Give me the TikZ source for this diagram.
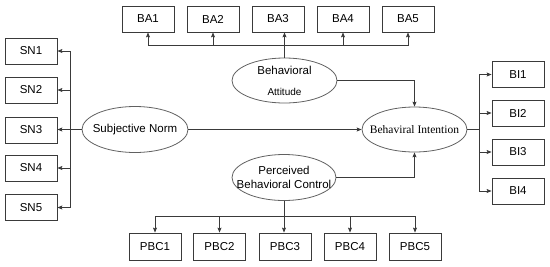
\documentclass[tikz,border=0pt]{standalone}
\usepackage{fontspec}
\setmainfont{Liberation Sans}
\newfontfamily\tnr{Liberation Serif}
\usetikzlibrary{shapes.geometric,arrows.meta}
\definecolor{lc}{HTML}{3A3A3A}
\begin{document}
\begin{tikzpicture}[x=1pt,y=-1pt,
  box/.style={draw=lc,line width=0.8pt,minimum width=52pt,minimum height=26pt,inner sep=0pt,font=\fontsize{11.5}{13}\selectfont},
  ell/.style={ellipse,draw=lc!80,line width=0.8pt,inner sep=0pt},
  etxt/.style={align=center,inner sep=0pt,font=\fontsize{11.5}{14}\selectfont},
  ln/.style={draw=lc,line width=0.8pt},
  arr/.style={ln,-{Stealth[length=5pt,width=4pt,inset=1pt]}}]
\useasboundingbox (0,0) rectangle (550,266);
% top boxes
\foreach \i/\x in {1/148,2/213,3/278,4/343,5/408} \node[box] (BA\i) at (\x,19) {BA\i};
% left boxes
\foreach \i/\y in {1/51,2/90,3/130,4/168,5/207.5} \node[box] (SN\i) at (31,\y) {SN\i};
% right boxes
\foreach \i/\y in {1/74.5,2/113,3/152,4/191} \node[box] (BI\i) at (518,\y) {BI\i};
% bottom boxes
\foreach \i/\x in {1/155,2/219.5,3/285,4/350,5/415} \node[box,minimum height=27pt] (PBC\i) at (\x,246.5) {PBC\i};
% ellipses
\node[ell,minimum width=105pt,minimum height=45pt] (ba) at (284.5,80.5) {};
\node[etxt] (batxt) at (ba.center) {Behavioral\\[7pt]{\fontsize{10}{12}\selectfont Attitude}};
\node[ell,minimum width=106pt,minimum height=46pt] (sn) at (135,129.5) {};
\node[etxt] (sntxt) at (sn.center) {Subjective Norm};
\node[ell,minimum width=105pt,minimum height=45pt] (bi) at (414.5,129.5) {};
\node[etxt,font=\tnr\fontsize{11.5}{14}\selectfont] (bitxt) at (bi.center) {Behaviral Intention};
\node[ell,minimum width=104pt,minimum height=46pt] (pbc) at (284,177.5) {};
\node[etxt] (pbctxt) at (pbc.center) {Perceived\\Behavioral Control};
% bus coordinates
\coordinate (babus) at (0,45.5);
\coordinate (snbus) at (70,0);
\coordinate (bibus) at (479,0);
\coordinate (pbcbus) at (0,216);
% BA connections
\draw[ln] (BA1.south |- babus) -- (BA5.south |- babus);
\draw[arr] (ba.north) -- (ba.north |- BA3.south);
\foreach \i in {1,2,4,5} \draw[arr] (BA\i.south |- babus) -- (BA\i.south);
% SN connections
\draw[ln] (SN1.east -| snbus) -- (SN5.east -| snbus);
\draw[arr] (sn.west) -- (sn.west -| SN3.east);
\foreach \i in {1,2,4,5} \draw[arr] (SN\i.east -| snbus) -- (SN\i.east);
% BI connections
\draw[ln] (bi.east) -- (bi.east -| bibus);
\draw[ln] (BI1.west -| bibus) -- (BI4.west -| bibus);
\foreach \i in {1,2,3,4} \draw[arr] (BI\i.west -| bibus) -- (BI\i.west);
% PBC connections
\draw[ln] (PBC1.north |- pbcbus) -- (PBC5.north |- pbcbus);
\draw[arr] (pbc.south) -- (pbc.south |- PBC3.north);
\foreach \i in {1,2,4,5} \draw[arr] (PBC\i.north |- pbcbus) -- (PBC\i.north);
% to BI
\draw[arr] (sn.east) -- (sn.east -| bi.west);
\draw[arr] (ba.east) -| (bi.north);
\draw[arr] (pbc.east) -| (bi.south);
\end{tikzpicture}
\end{document}
